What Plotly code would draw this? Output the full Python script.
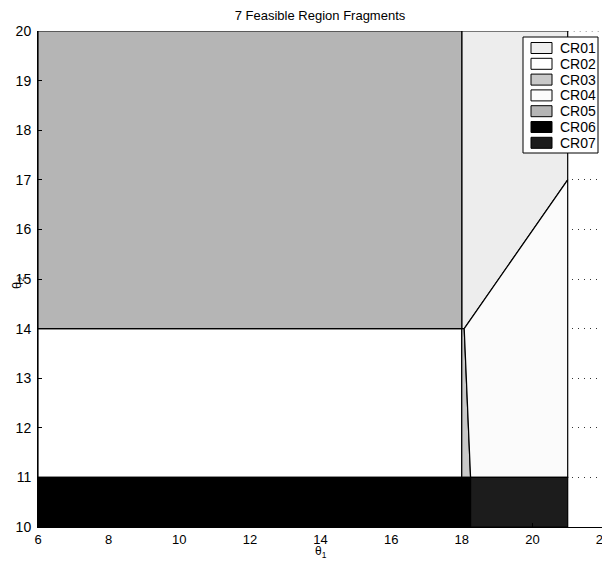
import plotly.graph_objects as go

# Region names and colours
region_names = ["CR01", "CR02", "CR03", "CR04", "CR05", "CR06", "CR07"]
region_colors = ["#ededed", "#ffffff", "#c9c9c9", "#fbfbfb", "#b5b5b5", "#000000", "#1c1c1c"]

# Polygon vertices (theta1, theta2)
cr01_x = [18.0, 18.0, 21.0, 21.0, 18.07]
cr01_y = [14.0, 20.0, 20.0, 17.0, 14.0]
cr02_x = [6.0, 18.0, 18.0, 6.0]
cr02_y = [11.0, 11.0, 14.0, 14.0]
cr03_x = [18.0, 18.07, 18.25, 18.0]
cr03_y = [14.0, 14.0, 11.0, 11.0]
cr04_x = [18.07, 21.0, 21.0, 18.25]
cr04_y = [14.0, 17.0, 11.0, 11.0]
cr05_x = [6.0, 18.0, 18.0, 6.0]
cr05_y = [14.0, 14.0, 20.0, 20.0]
cr06_x = [6.0, 18.25, 18.25, 6.0]
cr06_y = [10.0, 10.0, 11.0, 11.0]
cr07_x = [18.25, 21.0, 21.0, 18.25]
cr07_y = [10.0, 10.0, 11.0, 11.0]

regions_x = [cr01_x, cr02_x, cr03_x, cr04_x, cr05_x, cr06_x, cr07_x]
regions_y = [cr01_y, cr02_y, cr03_y, cr04_y, cr05_y, cr06_y, cr07_y]

x_ticks = [6, 8, 10, 12, 14, 16, 18, 20, 22]
y_ticks = [10, 11, 12, 13, 14, 15, 16, 17, 18, 19, 20]
x_range = [6, 22]
y_range = [10, 20]

# Layout geometry (pixels); the page body adds an 8 px offset
OFF = 8
W, H = 610 - OFF, 562 - OFF
PL, PR, PT, PB = 38, 603, 31, 527          # plot box in window pixels
ML, MR, MT, MB = PL - OFF, W - (PR - OFF), PT - OFF, H - (PB - OFF)
PW, PH = PR - PL, PB - PT


def px_x(p):
    return (p - PL) / PW


def px_y(p):
    return (PB - p) / PH


fig = go.Figure()
for name, col, xs, ys in zip(region_names, region_colors, regions_x, regions_y):
    fig.add_trace(go.Scatter(
        x=xs + [xs[0]], y=ys + [ys[0]], name=name,
        mode="lines", fill="toself", fillcolor=col,
        line=dict(color="black", width=1.2),
        hoverinfo="name", showlegend=False,
    ))

font = "Liberation Sans Narrow, Liberation Sans, Arial, sans-serif"
grid_dot = "1px,5px"

shapes = []
annotations = []
# dotted grid lines on the open top / right edges
shapes.append(dict(type="line", xref="x", yref="y", x0=x_range[1], x1=x_range[1],
                   y0=y_range[0], y1=y_range[1],
                   line=dict(color="#333333", width=1, dash=grid_dot)))
shapes.append(dict(type="line", xref="x", yref="y", x0=21, x1=x_range[1],
                   y0=y_range[1], y1=y_range[1],
                   line=dict(color="#333333", width=1, dash=grid_dot)))

# Legend box (drawn manually to match the compact row spacing)
lx0, lx1, ly0, ly1 = 523, 598, 37, 153
shapes.append(dict(type="rect", xref="paper", yref="paper",
                   x0=px_x(lx0), x1=px_x(lx1), y0=px_y(ly1), y1=px_y(ly0),
                   fillcolor="white", line=dict(color="black", width=1)))
row_h = 15.8
for i, (name, col) in enumerate(zip(region_names, region_colors)):
    cy = 48 + i * row_h
    shapes.append(dict(type="rect", xref="paper", yref="paper",
                       x0=px_x(531), x1=px_x(552), y0=px_y(cy + 5.5), y1=px_y(cy - 5.5),
                       fillcolor=col, line=dict(color="black", width=1)))
    annotations.append(dict(xref="paper", yref="paper", x=px_x(558), y=px_y(cy),
                            xanchor="left", yanchor="middle", text=name, showarrow=False,
                            font=dict(family=font, size=14, color="black")))

# Axis titles
annotations.append(dict(xref="paper", yref="paper", x=px_x(321), y=px_y(552),
                        xanchor="center", yanchor="middle", text="θ<sub>1</sub>",
                        showarrow=False, font=dict(family=font, size=12, color="black")))
annotations.append(dict(xref="paper", yref="paper", x=px_x(17), y=px_y(283),
                        xanchor="center", yanchor="middle", text="θ<sub>2</sub>",
                        textangle=-90, showarrow=False,
                        font=dict(family=font, size=13, color="black")))

fig.update_layout(
    width=W, height=H,
    margin=dict(l=ML, r=MR, t=MT, b=MB, autoexpand=False),
    paper_bgcolor="white", plot_bgcolor="white",
    font=dict(family=font, size=14, color="black"),
    title=dict(text="7 Feasible Region Fragments", x=(320 - OFF) / W,
               xanchor="center", xref="container",
               y=1 - (15 - OFF) / H, yanchor="middle", yref="container",
               font=dict(family=font, size=13, color="black")),
    showlegend=False,
    shapes=shapes,
    annotations=annotations,
)
fig.update_xaxes(range=x_range, tickvals=x_ticks, ticktext=[str(v) for v in x_ticks],
                 showline=True, linecolor="black", linewidth=1, mirror=False,
                 ticks="inside", ticklen=4, tickcolor="black", automargin=False,
                 showgrid=True, gridcolor="#333333", griddash=grid_dot, gridwidth=1,
                 zeroline=False, ticklabeloverflow="allow", ticklabelstandoff=0,
                 tickfont=dict(family=font, size=13, color="black"))
fig.update_yaxes(range=y_range, tickvals=y_ticks, ticktext=[str(v) for v in y_ticks],
                 showline=True, linecolor="black", linewidth=1, mirror=False,
                 ticks="inside", ticklen=4, tickcolor="black", automargin=False,
                 showgrid=True, gridcolor="#333333", griddash=grid_dot, gridwidth=1,
                 zeroline=False, ticklabeloverflow="allow", ticklabelstandoff=3,
                 tickfont=dict(family=font, size=14, color="black"))

fig.write_html("out.html")
